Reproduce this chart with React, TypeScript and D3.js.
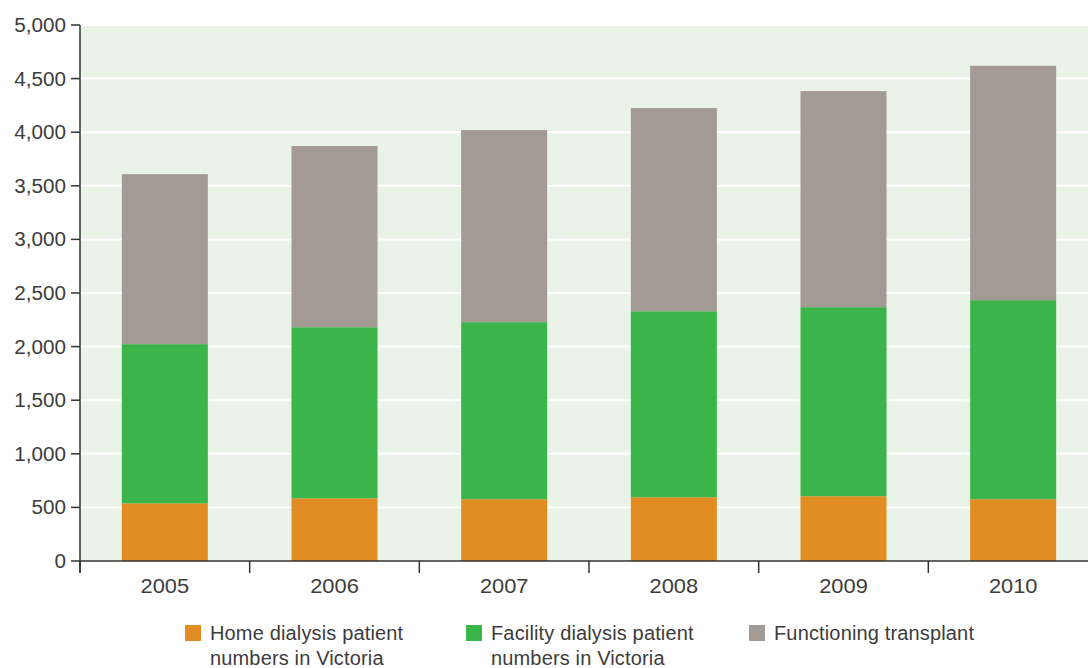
import React from "react";
import * as d3 from "d3";

const years = ["2005", "2006", "2007", "2008", "2009", "2010"];
const homeDialysis = [538, 585, 576, 595, 604, 576];
const facilityDialysis = [1485, 1596, 1652, 1735, 1764, 1857];
const functioningTransplant = [1586, 1690, 1792, 1895, 2015, 2187];
const yTicks = [0, 500, 1000, 1500, 2000, 2500, 3000, 3500, 4000, 4500, 5000];

const seriesKeys = ["home", "facility", "transplant"];
const seriesColors = ["#e18d23", "#3bb54a", "#a39a94"];
const legendLines = [
  ["Home dialysis patient", "numbers in Victoria"],
  ["Facility dialysis patient", "numbers in Victoria"],
  ["Functioning transplant"],
];

const W = 1088;
const H = 668;
const left = 80;
const top = 25;
const bottom = 561;
const font = "'Liberation Sans', Arial, Helvetica, sans-serif";
const textColor = "#3c3c3c";
// numeric tick labels use a slightly widened face
const yStretch = 1.06;
const xStretch = 1.12;

export default function App() {
  const x = d3.scaleBand<string>().domain(years).range([left, 1098]).paddingInner(0.493).paddingOuter(0.2465);
  const y = d3.scaleLinear().domain([0, 5000]).range([bottom, top]);

  const rows = years.map((yr, i) => ({
    year: yr,
    home: homeDialysis[i],
    facility: facilityDialysis[i],
    transplant: functioningTransplant[i],
  }));
  const stacked = d3.stack<any>().keys(seriesKeys)(rows);
  const step = x.step();
  const boundaries = d3.range(years.length + 1).map((i) => left + i * step);
  const legendX = [185, 466, 749];

  return (
    <svg width={W} height={H} style={{ position: "absolute", left: 0, top: 0, background: "#fff" }}>
      <rect x={left} y={top} width={W - left} height={bottom - top} fill="#e9f3e7" />
      {yTicks.slice(1).map((t) => (
        <line key={t} x1={left} x2={W} y1={y(t)} y2={y(t)} stroke="#fff" strokeWidth={2} />
      ))}
      {stacked.map((s, si) => (
        <g key={s.key} fill={seriesColors[si]}>
          {s.map((d, i) => (
            <rect key={i} x={x(years[i])} width={x.bandwidth()} y={y(d[1])} height={y(d[0]) - y(d[1])} />
          ))}
        </g>
      ))}
      {/* axes */}
      <line x1={left} x2={W} y1={bottom} y2={bottom} stroke="#333" strokeWidth={1.5} />
      <line x1={left} x2={left} y1={top} y2={573} stroke="#333" strokeWidth={1.5} />
      {boundaries.map((bx, i) => (
        <line key={i} x1={bx} x2={bx} y1={bottom} y2={573} stroke="#333" strokeWidth={1.5} />
      ))}
      {yTicks.map((t) => (
        <g key={t}>
          <line x1={71} x2={left} y1={y(t)} y2={y(t)} stroke="#333" strokeWidth={1.5} />
          <text
            transform={`translate(66,${y(t) + 7}) scale(${yStretch},1)`}
            textAnchor="end"
            fontFamily={font}
            fontSize={19.5}
            fill={textColor}
          >
            {d3.format(",")(t)}
          </text>
        </g>
      ))}
      {years.map((yr) => (
        <text
          key={yr}
          transform={`translate(${(x(yr) as number) + x.bandwidth() / 2},593) scale(${xStretch},1)`}
          textAnchor="middle"
          fontFamily={font}
          fontSize={19.5}
          fill={textColor}
        >
          {yr}
        </text>
      ))}
      {legendLines.map((lines, i) => (
        <g key={i}>
          <rect x={legendX[i]} y={625} width={16} height={16} fill={seriesColors[i]} />
          {lines.map((ln, j) => (
            <text key={j} x={legendX[i] + 25} y={640 + j * 25} fontFamily={font} fontSize={20} letterSpacing={0.15} fill={textColor}>
              {ln}
            </text>
          ))}
        </g>
      ))}
    </svg>
  );
}
